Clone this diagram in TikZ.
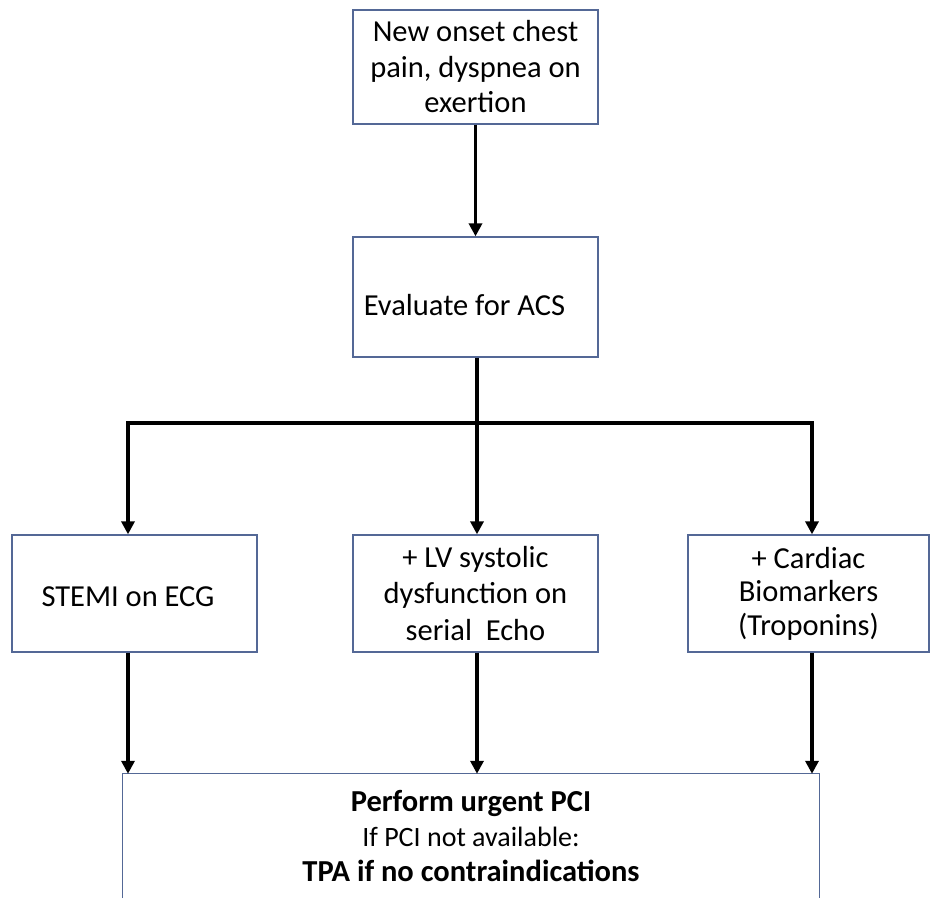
\documentclass[tikz,border=0pt]{standalone}
\usepackage{fontspec}
\setmainfont{Carlito}
\usetikzlibrary{arrows.meta}
\definecolor{boxc}{RGB}{84,104,150}
\begin{document}
\begin{tikzpicture}[x=1pt,y=-1pt,
  box/.style={draw=boxc, line width=1.3pt, fill=white, align=center, inner sep=0pt, font=\fontsize{30.5}{35.5}\selectfont},
  boxline/.style={draw=boxc, line width=1.3pt},
  arr/.style={-{Triangle[length=13pt,width=13pt]}, line width=3.8pt, line join=miter},
  conn/.style={line width=3.8pt}]
\useasboundingbox (0,0) rectangle (930,898);
\node[box, minimum width=245pt, minimum height=114pt] (top) at (475.5,67) {New onset chest\\pain, dyspnea on\\exertion};
\node[box, minimum width=245pt, minimum height=120pt] (eval) at (475.5,297) {\hspace*{-22pt}\raisebox{-8pt}[\height][\depth]{Evaluate for ACS}};
\node[box, minimum width=245pt, minimum height=117pt] (stemi) at (134.5,593.5) {\hspace*{-13pt}\raisebox{-3pt}[\height][\depth]{STEMI on ECG}};
\node[box, minimum width=245pt, minimum height=117pt, font=\fontsize{30.5}{36.5}\selectfont] (mid) at (475.5,593.5) {\raisebox{-3pt}[\height][\depth]{\begin{tabular}{@{}c@{}}+ LV systolic\\dysfunction on\\serial\ \ Echo\end{tabular}}};
\node[box, minimum width=241pt, minimum height=117pt, font=\fontsize{30.5}{33.5}\selectfont] (right) at (808.5,593.5) {+ Cardiac\\Biomarkers\\(Troponins)};
\node[align=center, minimum width=696pt, minimum height=124pt, inner sep=0pt, font=\fontsize{30.5}{35}\selectfont] (final) at (471,836) {\textbf{Perform urgent PCI}\\{\fontsize{28}{30}\selectfont If PCI not available:}\\\textbf{TPA if no contraindications}};
\draw[boxline] (final.south west) -- (final.north west) -- (final.north east) -- (final.south east);
\coordinate (J) at (477,423);
\coordinate (L) at (128,423);
\coordinate (R) at (812,423);
\draw[arr] (top) -- (eval);
\draw[conn] (eval.south -| J) -- (J);
\draw[arr] (J) -| (L |- stemi.north);
\draw[arr] (J) -| (R |- right.north);
\draw[arr] (J) -- (J |- mid.north);
\draw[arr] (L |- stemi.south) -- (L |- final.north);
\draw[arr] (J |- mid.south) -- (J |- final.north);
\draw[arr] (R |- right.south) -- (R |- final.north);
\end{tikzpicture}
\end{document}
